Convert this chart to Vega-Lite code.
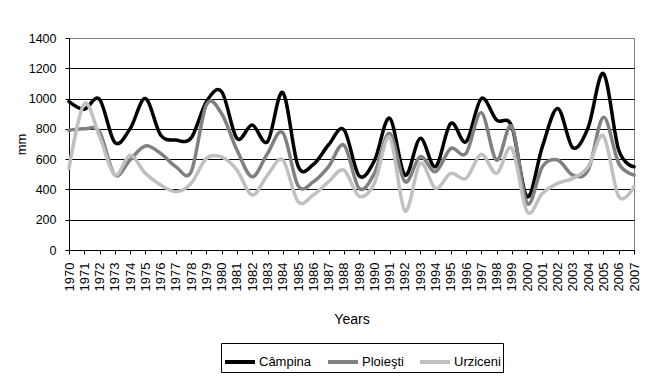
{
  "$schema": "https://vega.github.io/schema/vega-lite/v6.json",
  "width": 565,
  "height": 212,
  "autosize": {"type": "none"},
  "padding": {"left": 69, "top": 38, "right": 11, "bottom": 128},
  "background": "white",
  "config": {
    "font": "Liberation Sans",
    "view": {"stroke": "#808080", "strokeWidth": 1}
  },
  "datasets": {
    "rain": [
      {"year": 1970, "Câmpina": 980, "Ploieşti": 790, "Urziceni": 540},
      {"year": 1971, "Câmpina": 930, "Ploieşti": 800, "Urziceni": 965},
      {"year": 1972, "Câmpina": 995, "Ploieşti": 780, "Urziceni": 750},
      {"year": 1973, "Câmpina": 710, "Ploieşti": 495, "Urziceni": 495},
      {"year": 1974, "Câmpina": 800, "Ploieşti": 595, "Urziceni": 625},
      {"year": 1975, "Câmpina": 1000, "Ploieşti": 687, "Urziceni": 506},
      {"year": 1976, "Câmpina": 760, "Ploieşti": 638, "Urziceni": 430},
      {"year": 1977, "Câmpina": 726, "Ploieşti": 550, "Urziceni": 385},
      {"year": 1978, "Câmpina": 740, "Ploieşti": 517, "Urziceni": 440},
      {"year": 1979, "Câmpina": 980, "Ploieşti": 960, "Urziceni": 605},
      {"year": 1980, "Câmpina": 1045, "Ploieşti": 900, "Urziceni": 615},
      {"year": 1981, "Câmpina": 737, "Ploieşti": 660, "Urziceni": 528},
      {"year": 1982, "Câmpina": 825, "Ploieşti": 484, "Urziceni": 363},
      {"year": 1983, "Câmpina": 715, "Ploieşti": 638, "Urziceni": 495},
      {"year": 1984, "Câmpina": 1040, "Ploieşti": 775, "Urziceni": 594},
      {"year": 1985, "Câmpina": 555, "Ploieşti": 425, "Urziceni": 319},
      {"year": 1986, "Câmpina": 565, "Ploieşti": 450, "Urziceni": 363},
      {"year": 1987, "Câmpina": 695, "Ploieşti": 550, "Urziceni": 451},
      {"year": 1988, "Câmpina": 795, "Ploieşti": 693, "Urziceni": 528},
      {"year": 1989, "Câmpina": 490, "Ploieşti": 407, "Urziceni": 355},
      {"year": 1990, "Câmpina": 590, "Ploieşti": 506, "Urziceni": 440},
      {"year": 1991, "Câmpina": 870, "Ploieşti": 770, "Urziceni": 745},
      {"year": 1992, "Câmpina": 495, "Ploieşti": 451, "Urziceni": 258},
      {"year": 1993, "Câmpina": 737, "Ploieşti": 616, "Urziceni": 572},
      {"year": 1994, "Câmpina": 550, "Ploieşti": 517, "Urziceni": 407},
      {"year": 1995, "Câmpina": 836, "Ploieşti": 671, "Urziceni": 506},
      {"year": 1996, "Câmpina": 715, "Ploieşti": 638, "Urziceni": 473},
      {"year": 1997, "Câmpina": 1000, "Ploieşti": 907, "Urziceni": 632},
      {"year": 1998, "Câmpina": 858, "Ploieşti": 594, "Urziceni": 506},
      {"year": 1999, "Câmpina": 815, "Ploieşti": 815, "Urziceni": 671},
      {"year": 2000, "Câmpina": 352, "Ploieşti": 308, "Urziceni": 253},
      {"year": 2001, "Câmpina": 683, "Ploieşti": 550, "Urziceni": 374},
      {"year": 2002, "Câmpina": 935, "Ploieşti": 594, "Urziceni": 440},
      {"year": 2003, "Câmpina": 675, "Ploieşti": 495, "Urziceni": 473},
      {"year": 2004, "Câmpina": 810, "Ploieşti": 528, "Urziceni": 550},
      {"year": 2005, "Câmpina": 1165, "Ploieşti": 876, "Urziceni": 753},
      {"year": 2006, "Câmpina": 660, "Ploieşti": 572, "Urziceni": 352},
      {"year": 2007, "Câmpina": 550, "Ploieşti": 495, "Urziceni": 418}
    ]
  },
  "data": {"name": "rain"},
  "transform": [
    {"fold": ["Câmpina", "Ploieşti", "Urziceni"], "as": ["station", "mm"]}
  ],
  "mark": {"type": "line", "interpolate": "cardinal", "tension": 0, "strokeWidth": 3.5, "strokeCap": "round", "strokeJoin": "round"},
  "encoding": {
    "x": {
      "field": "year",
      "type": "ordinal",
      "scale": {"type": "point", "padding": 0},
      "axis": {
        "title": "Years",
        "titleFont": "Liberation Sans",
        "titleFontSize": 14,
        "titleFontWeight": "normal",
        "titleColor": "black",
        "titlePadding": 22,
        "labelAngle": -90,
        "labelFontSize": 13,
        "labelColor": "black",
        "labelPadding": 8,
        "labelOverlap": false,
        "labelFlush": false,
        "domainColor": "black",
        "tickColor": "black",
        "tickSize": 4,
        "grid": false
      }
    },
    "y": {
      "field": "mm",
      "type": "quantitative",
      "scale": {"domain": [0, 1400], "nice": false, "zero": true},
      "axis": {
        "title": "mm",
        "titleFontSize": 13,
        "titleFontWeight": "normal",
        "titleColor": "black",
        "titlePadding": 0,
        "format": "d",
        "values": [0, 200, 400, 600, 800, 1000, 1200, 1400],
        "labelFontSize": 12.5,
        "labelColor": "black",
        "labelPadding": 9,
        "domainColor": "black",
        "tickColor": "black",
        "tickSize": 4,
        "grid": true,
        "gridColor": {"condition": {"test": "datum.value === 1400", "value": "#808080"}, "value": "black"},
        "gridWidth": 1,
        "gridOpacity": 1
      }
    },
    "color": {
      "field": "station",
      "type": "nominal",
      "sort": ["Câmpina", "Ploieşti", "Urziceni"],
      "scale": {"domain": ["Câmpina", "Ploieşti", "Urziceni"], "range": ["#000000", "#808080", "#c0c0c0"]},
      "legend": {
        "title": null,
        "orient": "none",
        "direction": "horizontal",
        "legendX": 152,
        "legendY": 305,
        "strokeColor": "black",
        "fillColor": "white",
        "padding": 2,
        "labelFontSize": 13,
        "labelColor": "black",
        "labelOffset": 2,
        "columnPadding": 8,
        "symbolType": "stroke",
        "symbolSize": 900,
        "symbolStrokeWidth": 4
      }
    }
  }
}
